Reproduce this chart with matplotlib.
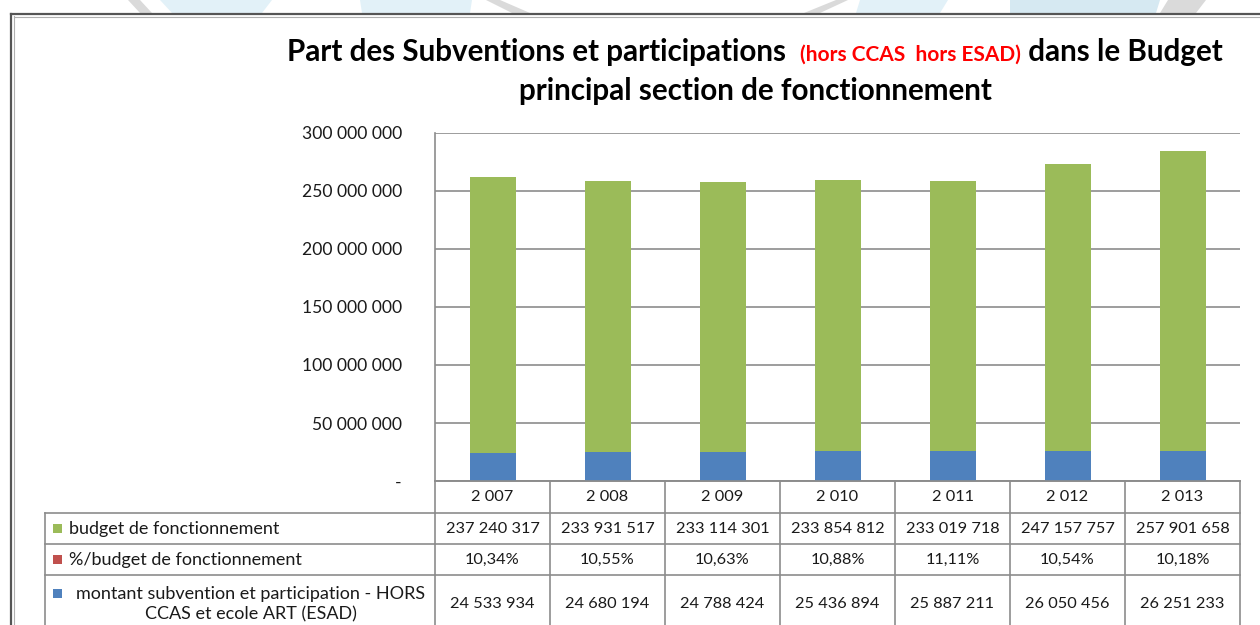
import matplotlib
matplotlib.use("Agg")
from matplotlib import pyplot as plt
from matplotlib import transforms
from matplotlib.patches import Polygon, Rectangle
from matplotlib.lines import Line2D

annees = [2007, 2008, 2009, 2010, 2011, 2012, 2013]
budget = [237240317, 233931517, 233114301, 233854812, 233019718, 247157757, 257901658]
pourcent = [10.34, 10.55, 10.63, 10.88, 11.11, 10.54, 10.18]
subvention = [24533934, 24680194, 24788424, 25436894, 25887211, 26050456, 26251233]

noms = ["budget de fonctionnement",
        "%/budget de fonctionnement",
        "montant subvention et participation - HORS\nCCAS et ecole ART (ESAD)"]

VERT = "#9BBB59"
ROUGE = "#C0504D"
BLEU = "#4F81BD"
GRIS = "#8C8C8C"
TXT = "#1a1a1a"

W, H = 1260, 625
plt.rcParams["font.family"] = ["Lato", "DejaVu Sans"]


def fx(x):
    return x / W


def fy(y):
    return 1 - y / H


def esp(n):
    return f"{n:,}".replace(",", " ")


fig = plt.figure(figsize=(W / 100, H / 100), dpi=100)

# fond decoratif en haut de la page
formes = [
    ([(128, 0), (140, 0), (152, 13), (140, 13)], "#dadada"),
    ([(160, 0), (272, 0), (262, 13), (172, 13)], "#e2f1f8"),
    ([(360, 0), (472, 0), (470, 13), (362, 13)], "#e2f1f8"),
    ([(486, 0), (500, 0), (530, 13), (512, 13)], "#dadada"),
    ([(836, 0), (848, 0), (820, 13), (804, 13)], "#dadada"),
    ([(860, 0), (948, 0), (940, 13), (856, 13)], "#e2f1f8"),
    ([(1010, 0), (1160, 0), (1156, 13), (1010, 13)], "#d6e9f2"),
    ([(1168, 0), (1206, 0), (1196, 13), (1160, 13)], "#dadada"),
]
for pts, c in formes:
    fig.patches.append(Polygon([(fx(a), fy(b)) for a, b in pts], closed=True,
                               transform=fig.transFigure, color=c, lw=0))

# cadre du graphique
fig.add_artist(Line2D([fx(11), fx(11)], [fy(14), fy(630)], color="#555555", lw=1.6))
fig.add_artist(Line2D([fx(11), fx(1265)], [fy(14), fy(14)], color="#555555", lw=1.6))
fig.add_artist(Line2D([fx(13.5), fx(13.5)], [fy(16), fy(630)], color="#b0b0b0", lw=0.8))
fig.add_artist(Line2D([fx(13.5), fx(1265)], [fy(16.5), fy(16.5)], color="#b0b0b0", lw=0.8))

# titre en trois morceaux
r = fig.canvas.get_renderer()
morceaux = [("Part des Subventions et participations  ", 21.3, "black"),
            ("(hors CCAS  hors ESAD)", 15, "#ff0000"),
            (" dans le Budget", 21.3, "black")]
objets = []
for s, taille, c in morceaux:
    t = fig.text(0, fy(61), s, fontsize=taille, color=c, fontweight="bold",
                 va="baseline", ha="left")
    objets.append(t)
largeurs = [t.get_window_extent(r).width for t in objets]
x0 = 755 - sum(largeurs) / 2
for t, w in zip(objets, largeurs):
    t.set_x(fx(x0))
    x0 += w
fig.text(fx(755), fy(100), "principal section de fonctionnement", fontsize=21.3,
         fontweight="bold", color="black", ha="center", va="baseline")

# zone de trace
ax = fig.add_axes([fx(435), fy(481), (1240 - 435) / W, (481 - 133) / H])
x = list(range(len(annees)))
haut = [s + b for s, b in zip(subvention, budget)]
ax.bar(x, subvention, width=0.4, color=BLEU, zorder=3)
ax.bar(x, budget, width=0.4, bottom=subvention, color=VERT, zorder=3)
ax.bar(x, pourcent, width=0.4, bottom=haut, color=ROUGE, zorder=3)

ax.set_xlim(-0.5, len(annees) - 0.5)
ax.set_ylim(0, 300000000)
graduations = list(range(0, 300000001, 50000000))
ax.set_yticks(graduations)
ax.set_yticklabels(["-" if g == 0 else esp(g) for g in graduations])
ax.tick_params(axis="y", length=0, pad=23.8, labelsize=12.6, labelcolor=TXT)
ax.set_xticks([])
ax.grid(axis="y", color=GRIS, lw=1.2, zorder=0)
for cote in ["top", "right"]:
    ax.spines[cote].set_visible(False)
ax.spines["left"].set_color(GRIS)
ax.spines["bottom"].set_color(GRIS)
ax.spines["left"].set_linewidth(1.2)
ax.spines["bottom"].set_linewidth(1.2)

# tableau de donnees sous le graphique
tr = transforms.blended_transform_factory(ax.transData, fig.transFigure)
lignes_y = [481, 513, 544, 575, 640]
xd, xf = -0.5, len(annees) - 0.5

fig.add_artist(Line2D([xd, xf], [fy(481), fy(481)], transform=tr, color=GRIS, lw=1.2))
for yy in lignes_y[1:4]:
    fig.add_artist(Line2D([fx(45), fx(435)], [fy(yy), fy(yy)], color=GRIS, lw=1.2))
    fig.add_artist(Line2D([xd, xf], [fy(yy), fy(yy)], transform=tr, color=GRIS, lw=1.2))
fig.add_artist(Line2D([fx(45), fx(45)], [fy(513), fy(640)], color=GRIS, lw=1.2))
for i in range(len(annees) + 1):
    fig.add_artist(Line2D([i - 0.5, i - 0.5], [fy(481), fy(640)], transform=tr,
                          color=GRIS, lw=1.2))

rangees = [
    [esp(a) for a in annees],
    [esp(b) for b in budget],
    [f"{p:.2f}".replace(".", ",") + "%" for p in pourcent],
    [esp(s) for s in subvention],
]
centres_y = [497, 529, 560, 604]
for vals, cy in zip(rangees, centres_y):
    for i, v in enumerate(vals):
        fig.text(i, fy(cy), v, transform=tr, ha="center", va="center",
                 fontsize=11.8, color=TXT)

# libelles de series avec leur pastille de couleur
couleurs = [VERT, ROUGE, BLEU]
pastille_y = [528, 559, 593]
for nom, c, py, cy in zip(noms, couleurs, pastille_y, centres_y[1:]):
    fig.patches.append(Rectangle((fx(53), fy(py + 4.5)), 9 / W, 9 / H,
                                 transform=fig.transFigure, color=c, lw=0))
    if "\n" in nom:
        fig.text(fx(251), fy(cy), nom, ha="center", va="center", fontsize=13,
                 color=TXT, multialignment="center", linespacing=1.35)
    else:
        fig.text(fx(69), fy(cy), nom, ha="left", va="center", fontsize=13, color=TXT)

fig.savefig("out.png", dpi=100)
